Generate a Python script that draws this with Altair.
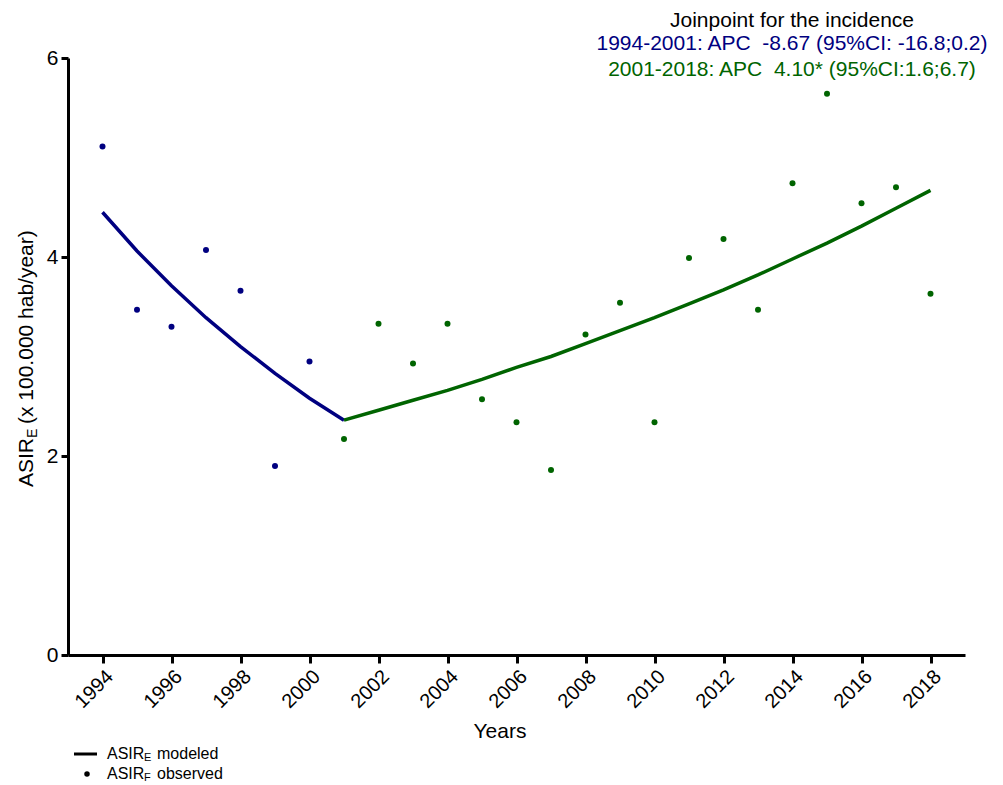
import altair as alt
import pandas as pd

years = list(range(1994, 2019))
observed = [5.11, 3.47, 3.30, 4.07, 3.66, 1.90, 2.95, 2.17, 3.33, 2.93, 3.33, 2.57,
            2.34, 1.86, 3.22, 3.54, 2.34, 3.99, 4.18, 3.47, 4.74, 5.64, 4.54, 4.70, 3.63]
modeled = [4.45, 4.06, 3.71, 3.39, 3.10, 2.83, 2.58, 2.36, 2.46, 2.56, 2.66, 2.77,
           2.89, 3.00, 3.13, 3.26, 3.39, 3.53, 3.67, 3.82, 3.98, 4.14, 4.31, 4.49, 4.67]
joinpoint_year = 2001
segments = ["1994-2001", "2001-2018"]
segment_colors = ["#000080", "#006400"]
x_ticks = list(range(1994, 2019, 2))
y_ticks = [0, 2, 4, 6]

title_lines = ["Joinpoint for the incidence",
               "1994-2001: APC\u00a0 -8.67 (95%CI: -16.8;0.2)",
               "2001-2018: APC\u00a0 4.10* (95%CI:1.6;6.7)"]
y_title_parts = ["ASIR", "E", "(x 100.000 hab/year)"]
x_title = "Years"
legend_parts = [("ASIR", "E", "modeled"), ("ASIR", "F", "observed")]

FONT = "Liberation Sans"

# point data
pts = pd.DataFrame({
    "year": years,
    "value": observed,
    "segment": [segments[0] if y < joinpoint_year else segments[1] for y in years],
})
# line data (joinpoint shared by both segments)
rows = []
for y, v in zip(years, modeled):
    if y <= joinpoint_year:
        rows.append({"year": y, "value": v, "segment": segments[0]})
    if y >= joinpoint_year:
        rows.append({"year": y, "value": v, "segment": segments[1]})
lines = pd.DataFrame(rows)

axis_common = dict(grid=False, domainColor="black", domainWidth=3, tickColor="black",
                   tickWidth=3, labelColor="black", labelFont=FONT, title=None)

x_enc = alt.X("year:Q",
              scale=alt.Scale(domain=[1993, 2019], nice=False, zero=False),
              axis=alt.Axis(values=x_ticks, format="d", labelAngle=-45,
                            labelFontSize=20, tickSize=8, labelPadding=3,
                            **axis_common))
y_enc = alt.Y("value:Q",
              scale=alt.Scale(domain=[0, 6], nice=False),
              axis=alt.Axis(values=y_ticks, labelFontSize=21,
                            tickSize=7, labelPadding=3, **axis_common))
color = alt.Color("segment:N",
                  scale=alt.Scale(domain=segments, range=segment_colors),
                  legend=None)

line_layer = alt.Chart(lines).mark_line(strokeWidth=3.5).encode(
    x=x_enc, y=y_enc, color=color, detail="segment:N")
point_layer = alt.Chart(pts).mark_point(filled=True, size=36, opacity=1).encode(
    x=x_enc, y=y_enc, color=color)


def txt(text, x, y, size=21, color="black", align="left", angle=0, baseline="middle"):
    return alt.Chart(pd.DataFrame({"t": [text]})).mark_text(
        font=FONT, fontSize=size, color=color, align=align, angle=angle,
        baseline=baseline).encode(text="t:N", x=alt.value(x), y=alt.value(y))


layers = [line_layer, point_layer]

# top annotation
layers.append(txt(title_lines[0], 724, -31, color="black", align="center", baseline="alphabetic"))
layers.append(txt(title_lines[1], 724, -8, color=segment_colors[0], align="center", baseline="alphabetic"))
layers.append(txt(title_lines[2], 724, 18, color=segment_colors[1], align="center", baseline="alphabetic"))

# y title (rotated, with subscript)
layers.append(txt(y_title_parts[0], -41, 429, angle=270))
layers.append(txt(y_title_parts[1], -35, 380, size=14, angle=270))
layers.append(txt(y_title_parts[2], -41, 366, angle=270))

# x title
layers.append(txt(x_title, 432, 674, align="center"))

# legend
layers.append(alt.Chart(pd.DataFrame({"k": [0]})).mark_rule(color="black", strokeWidth=3).encode(
    x=alt.value(6), x2=alt.value(29), y=alt.value(696)))
layers.append(alt.Chart(pd.DataFrame({"k": [0]})).mark_point(
    filled=True, size=30, color="black", opacity=1).encode(x=alt.value(19), y=alt.value(716)))
for i, (a, sub, rest) in enumerate(legend_parts):
    yy = 696 + 20 * i
    layers.append(txt(a, 39, yy, size=16))
    layers.append(txt(sub, 76, yy + 4, size=11))
    layers.append(txt(rest, 89, yy, size=16))

chart = alt.layer(*layers).properties(
    width=897, height=597,
    autosize="none",
    padding={"left": 68, "top": 58, "right": 38, "bottom": 130},
    background="white",
).configure_view(stroke=None).configure_axis(
    grid=False, domainColor="black", domainWidth=3, tickColor="black",
    tickWidth=3, labelColor="black", labelFont=FONT,
)

chart.save("out.html", embed_options={"renderer": "svg", "actions": False})
